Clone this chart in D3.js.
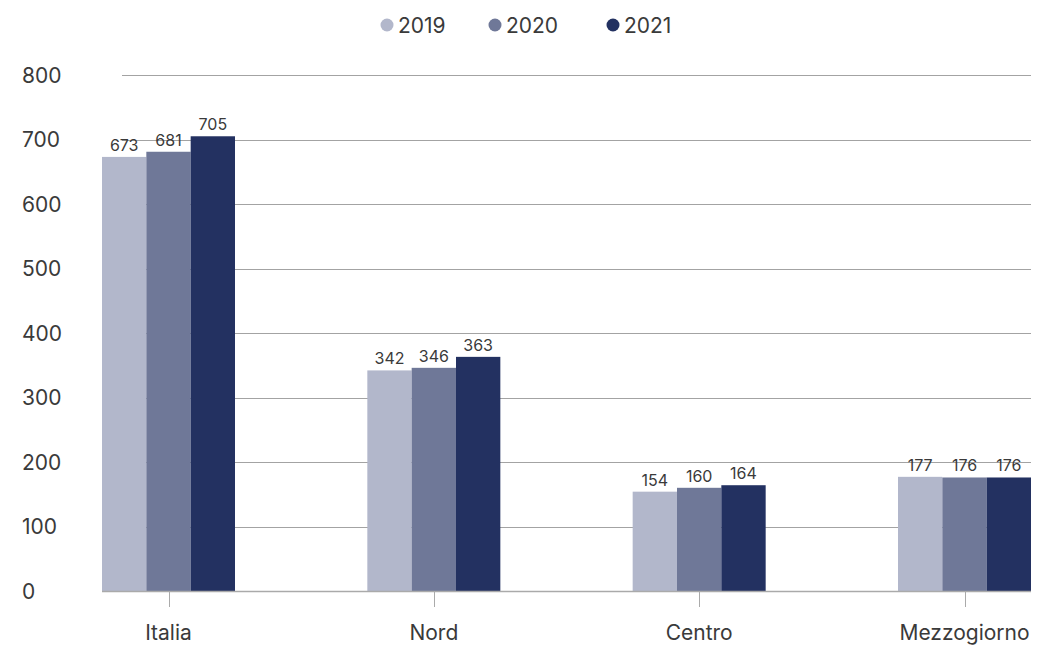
<!DOCTYPE html>
<html>
<head>
<meta charset="utf-8">
<script src="https://cdn.jsdelivr.net/npm/d3@7"></script>
<style>
  html, body { margin: 0; padding: 0; background: #fff; overflow: hidden; }
  svg { display: block; font-family: Inter, "Noto Sans", sans-serif; }
</style>
</head>
<body>
<svg id="chart" width="1061" height="648"></svg>
<script>
const categories = ["Italia", "Nord", "Centro", "Mezzogiorno"];
const seriesNames = ["2019", "2020", "2021"];
const values2019 = [673, 342, 154, 177];
const values2020 = [681, 346, 160, 176];
const values2021 = [705, 363, 164, 176];
const yTicks = [0, 100, 200, 300, 400, 500, 600, 700, 800];
const colors = ["#b2b7cb", "#6f7898", "#233161"];

const series = [values2019, values2020, values2021];
const svg = d3.select("#chart");

const y = d3.scaleLinear().domain([0, 800]).range([591, 75]);
const xCenter = d3.scalePoint().domain(categories).range([168.5, 964.5]);
const groupW = 133;
const xInner = d3.scaleBand().domain(seriesNames).range([-groupW / 2, groupW / 2]).padding(0);

// gridlines
svg.append("g").selectAll("line").data(yTicks.filter(d => d > 0)).join("line")
  .attr("x1", 122).attr("x2", 1031)
  .attr("y1", d => Math.round(y(d)) + 0.5).attr("y2", d => Math.round(y(d)) + 0.5)
  .attr("stroke", "#a3a3a3").attr("stroke-width", 1);

// y labels
svg.append("g").selectAll("text").data(yTicks).join("text")
  .attr("x", 22).attr("y", d => y(d))
  .attr("dy", "0.36em")
  .attr("font-size", 21).attr("fill", "#3a3a3a")
  .text(d => d);

// bars
const groups = svg.append("g").selectAll("g").data(categories).join("g")
  .attr("transform", d => `translate(${xCenter(d)},0)`);

groups.each(function(cat, ci) {
  const g = d3.select(this);
  seriesNames.forEach((s, si) => {
    const v = series[si][ci];
    g.append("rect")
      .attr("x", xInner(s)).attr("width", xInner.bandwidth())
      .attr("y", y(v)).attr("height", y(0) - y(v))
      .attr("fill", colors[si]);
    g.append("text")
      .attr("x", xInner(s) + xInner.bandwidth() / 2)
      .attr("y", y(v) - 6)
      .attr("text-anchor", "middle")
      .attr("font-size", 16).attr("fill", "#3a3a3a")
      .text(v);
  });
});

// x axis baseline
svg.append("line").attr("x1", 102).attr("x2", 1031)
  .attr("y1", 591.5).attr("y2", 591.5)
  .attr("stroke", "#aaa").attr("stroke-width", 1.5);

// ticks & labels
svg.append("g").selectAll("line").data(categories).join("line")
  .attr("x1", d => Math.round(xCenter(d)) + 0.5).attr("x2", d => Math.round(xCenter(d)) + 0.5)
  .attr("y1", 592).attr("y2", 607)
  .attr("stroke", "#aaa").attr("stroke-width", 1);

svg.append("g").selectAll("text").data(categories).join("text")
  .attr("x", d => xCenter(d)).attr("y", 640)
  .attr("text-anchor", "middle")
  .attr("font-size", 21).attr("fill", "#3a3a3a")
  .text(d => d);

// legend
const legendX = [387, 495, 613];
const leg = svg.append("g").selectAll("g").data(seriesNames).join("g")
  .attr("transform", (d, i) => `translate(${legendX[i]},25)`);
leg.append("circle").attr("r", 6.5).attr("fill", (d, i) => colors[i]);
leg.append("text").attr("x", 11).attr("dy", "0.36em")
  .attr("font-size", 21).attr("fill", "#3a3a3a").text(d => d);
</script>
</body>
</html>
